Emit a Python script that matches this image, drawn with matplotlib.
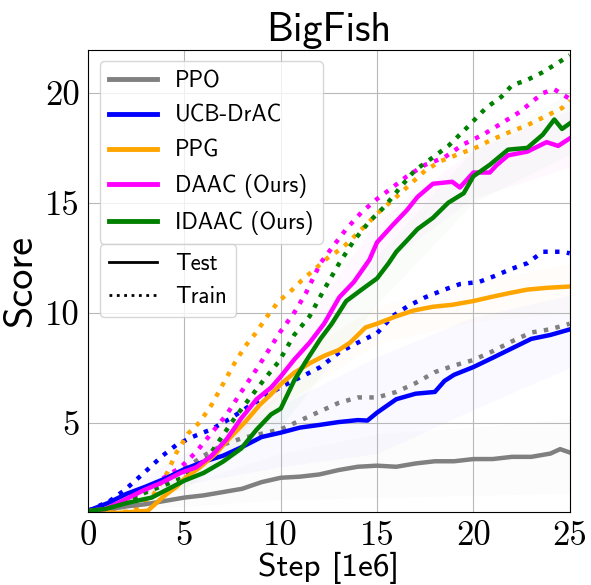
"""BigFish: test (solid) vs train (dotted) score curves for five methods."""
import matplotlib
matplotlib.use("Agg")
import matplotlib.pyplot as plt
from matplotlib.lines import Line2D

# ---- data (step in 1e6, score) ----
ppo_test_x = [0, 1, 2, 3, 4, 5, 6, 7, 8, 9, 10, 11, 12, 13, 14, 15, 16, 17, 18, 19, 20, 21, 22, 23, 24, 24.5, 25]
ppo_test_y = [1.0, 1.05, 1.2, 1.3, 1.45, 1.6, 1.7, 1.85, 2.0, 2.3, 2.5, 2.55, 2.65, 2.85, 3.0, 3.05, 3.0,
              3.15, 3.25, 3.25, 3.35, 3.35, 3.45, 3.45, 3.6, 3.8, 3.65]
ppo_train_x = [0, 1, 2, 3, 4, 5, 6, 7, 8, 9, 10, 11, 12, 13, 14, 15, 16, 17, 18, 19, 20, 21, 22, 23, 24, 25]
ppo_train_y = [1.0, 1.2, 1.5, 1.9, 2.4, 2.9, 3.5, 4.0, 4.3, 4.5, 4.7, 5.1, 5.5, 5.9, 6.15, 6.15, 6.4,
               6.8, 7.3, 7.6, 7.85, 8.25, 8.7, 9.1, 9.25, 9.5]

ucb_test_x = [0, 1, 2, 3, 4, 5, 6, 7, 8, 9, 10, 11, 12, 13, 14, 14.5, 15, 16, 17, 18, 18.5, 19, 20, 21, 22, 23, 24, 25]
ucb_test_y = [1.0, 1.34, 1.77, 2.1, 2.46, 2.89, 3.23, 3.5, 3.9, 4.35, 4.55, 4.78, 4.9, 5.03, 5.12, 5.1,
              5.46, 6.07, 6.32, 6.4, 6.9, 7.18, 7.53, 7.95, 8.38, 8.81, 8.99, 9.24]
ucb_train_x = [0, 1.1, 1.9, 2.9, 3.85, 4.6, 5.4, 6.4, 7.4, 8.3, 9.1, 10.1, 11.1, 12.06, 13.04, 14, 15,
               15.8, 16.55, 17.5, 18.5, 19.3, 20.3, 21.05, 22, 22.8, 23.6, 24.6, 25]
ucb_train_y = [1.0, 1.43, 1.94, 2.72, 3.49, 4.0, 4.35, 4.7, 5.2, 5.72, 6.15, 6.67, 7.1, 7.53, 8.2, 8.64,
               9.07, 9.84, 10.27, 10.7, 11.05, 11.3, 11.4, 11.65, 12.0, 12.25, 12.77, 12.77, 12.7]

ppg_test_x = [0, 1.5, 3.1, 3.85, 4.6, 5, 5.8, 6.6, 7.4, 8.15, 8.9, 9.5, 10, 10.7, 11.5, 12.25, 13, 13.6,
              14.4, 15, 16, 16.9, 17.9, 18.9, 20, 20.85, 21.8, 22.8, 23.8, 25]
ppg_test_y = [1.0, 0.9, 1.0, 1.6, 2.1, 2.46, 2.97, 3.57, 4.35, 5.03, 5.8, 6.3, 6.75, 7.27, 7.7, 8.04, 8.3,
              8.64, 9.33, 9.5, 9.84, 10.1, 10.27, 10.36, 10.53, 10.7, 10.88, 11.05, 11.13, 11.19]
ppg_train_x = [0, 2.2, 3.3, 4.05, 4.6, 5.2, 5.8, 6.4, 7.0, 7.6, 8.15, 8.7, 9.3, 9.9, 10.5, 11.1, 11.9,
               12.45, 13.2, 13.8, 14.6, 15.2, 16, 16.75, 17.5, 18.3, 19.3, 20.1, 20.9, 21.8, 22.8, 23.8, 24.6, 25]
ppg_train_y = [1.0, 0.95, 1.6, 2.63, 3.66, 4.52, 5.03, 5.8, 6.75, 7.7, 8.47, 9.07, 9.84, 10.53, 10.96,
               11.48, 12.08, 12.5, 12.94, 13.45, 14.14, 14.66, 15.26, 15.86, 16.46, 16.89, 17.23, 17.49,
               17.84, 18.18, 18.52, 18.95, 19.3, 19.64]

daac_test_x = [0, 0.9, 1.9, 2.9, 3.85, 4.8, 5.6, 6.4, 7.2, 7.95, 8.75, 9.5, 10, 10.7, 11.5, 12.25, 13.04,
               13.8, 14.6, 15, 15.8, 16.55, 17.1, 17.9, 18.9, 19.3, 20, 20.85, 21.2, 21.8, 22.8, 23.8, 24.4, 25]
daac_test_y = [1.0, 1.08, 1.5, 1.94, 2.29, 2.72, 2.97, 3.49, 4.26, 5.2, 6.07, 6.6, 7.1, 7.87, 8.64, 9.5,
               10.7, 11.4, 12.4, 13.2, 13.97, 14.66, 15.26, 15.86, 15.95, 15.69, 16.37, 16.37, 16.7, 17.15,
               17.32, 17.75, 17.58, 17.92]
daac_train_x = [0, 1.9, 2.9, 4.8, 5.6, 6.4, 7.2, 7.95, 8.75, 9.5, 10, 10.7, 11.3, 12.06, 12.65, 13.4,
                14.2, 15, 15.8, 16.55, 17.5, 18.5, 19.5, 20.5, 21.45, 22.4, 23.6, 24.2, 25]
daac_train_y = [1.0, 1.4, 1.94, 2.97, 3.66, 4.52, 5.38, 6.4, 7.44, 8.47, 9.16, 10.0, 10.88, 12.25, 12.94,
                13.8, 14.57, 15.17, 15.69, 16.2, 16.72, 17.06, 17.66, 18.09, 18.6, 19.12, 19.98, 20.15, 19.72]

idaac_test_x = [0, 0.9, 2.0, 3.3, 4.25, 5, 6, 7, 7.95, 8.75, 9.5, 10, 10.7, 11.3, 12.06, 12.65, 13.4,
                14.2, 15, 15.6, 16, 16.55, 17.1, 17.9, 18.7, 19.5, 20, 20.85, 21.8, 22.8, 23.6, 24.2, 24.6, 25]
idaac_test_y = [1.0, 1.08, 1.35, 1.6, 2.03, 2.37, 2.72, 3.23, 3.83, 4.69, 5.38, 5.64, 6.92, 7.78, 8.81,
                9.5, 10.53, 11.05, 11.56, 12.25, 12.77, 13.28, 13.8, 14.31, 15.0, 15.43, 16.2, 16.72,
                17.41, 17.49, 18.09, 18.78, 18.35, 18.6]
idaac_train_x = [0, 1.9, 2.9, 4.8, 6, 6.8, 7.6, 8.35, 9.1, 9.9, 10.7, 11.5, 12.25, 13.04, 13.8, 14.6,
                 15.4, 16.2, 16.95, 17.9, 18.7, 19.7, 20.65, 21.45, 22, 22.8, 23.6, 24.4, 25]
idaac_train_y = [1.0, 1.3, 1.8, 2.46, 3.14, 4.17, 5.2, 6.07, 6.92, 7.78, 8.99, 9.84, 11.05, 12.25, 13.28,
                 14.14, 14.83, 15.69, 16.46, 17.06, 17.58, 18.44, 19.3, 19.81, 20.33, 20.58, 20.93, 21.36, 21.7]

# faint spread around the test curves (lower / upper), read coarsely
band_x = [0, 5, 10, 15, 20, 25]
ppo_lo = [1.0, 1.2, 1.5, 1.6, 1.7, 1.8]
ppo_hi = [1.0, 2.2, 3.6, 4.5, 4.8, 5.2]
ucb_lo = [1.0, 2.2, 3.0, 3.6, 5.6, 7.5]
ucb_hi = [1.0, 3.6, 5.8, 8.0, 9.8, 10.8]
ppg_lo = [1.0, 2.0, 5.8, 8.6, 9.6, 10.0]
ppg_hi = [1.0, 2.9, 7.6, 10.3, 11.4, 12.2]
daac_lo = [1.0, 2.3, 6.2, 12.0, 15.2, 16.6]
daac_hi = [1.0, 3.1, 8.0, 14.2, 17.4, 19.2]
idaac_lo = [1.0, 2.0, 4.8, 10.4, 15.0, 17.2]
idaac_hi = [1.0, 2.8, 6.4, 12.6, 17.4, 20.0]

methods = ["PPO", "UCB-DrAC", "PPG", "DAAC (Ours)", "IDAAC (Ours)"]
colors = ["grey", "blue", "orange", "magenta", "green"]
tests = [(ppo_test_x, ppo_test_y), (ucb_test_x, ucb_test_y), (ppg_test_x, ppg_test_y),
         (daac_test_x, daac_test_y), (idaac_test_x, idaac_test_y)]
trains = [(ppo_train_x, ppo_train_y), (ucb_train_x, ucb_train_y), (ppg_train_x, ppg_train_y),
          (daac_train_x, daac_train_y), (idaac_train_x, idaac_train_y)]
bands = [(ppo_lo, ppo_hi), (ucb_lo, ucb_hi), (ppg_lo, ppg_hi), (daac_lo, daac_hi), (idaac_lo, idaac_hi)]

SANS = "cmss10"
SERIF = "cmr10"

fig = plt.figure(figsize=(5.91, 5.85), dpi=100)
ax = fig.add_axes([0.149, 0.125, 0.815, 0.79])

for c, (lo, hi) in zip(colors, bands):
    ax.fill_between(band_x, lo, hi, color=c, alpha=0.025, lw=0)
for c, (x, y) in zip(colors, trains):
    ax.plot(x, y, color=c, lw=3.2, ls=":")
for c, (x, y) in zip(colors, tests):
    ax.plot(x, y, color=c, lw=3.2)

ax.set_xlim(0, 25)
ax.set_ylim(0.95, 21.95)
ax.set_xticks([0, 5, 10, 15, 20, 25])
ax.set_yticks([5, 10, 15, 20])
ax.grid(True, color="#b8b8b8", lw=0.8)
ax.tick_params(labelsize=25, length=0, pad=6)
for lab in ax.get_xticklabels() + ax.get_yticklabels():
    lab.set_fontfamily(SERIF)
for s in ax.spines.values():
    s.set_linewidth(0.8)

ax.set_title("BigFish", fontsize=29, fontfamily=SANS, pad=6)
ax.set_xlabel("Step [1e6]", fontsize=24, fontfamily=SANS, labelpad=0)
ax.set_ylabel("Score", fontsize=29, fontfamily=SANS, labelpad=4)

h1 = [Line2D([], [], color=c, lw=3.5) for c in colors]
leg1 = ax.legend(h1, methods, loc="upper left", bbox_to_anchor=(0.0, 1.0),
                 prop={"family": SANS, "size": 16.5}, handlelength=2.1, labelspacing=0.55,
                 framealpha=0.8)
ax.add_artist(leg1)
h2 = [Line2D([], [], color="k", lw=2), Line2D([], [], color="k", lw=2, ls=":")]
ax.legend(h2, ["Test", "Train"], loc="upper left", bbox_to_anchor=(0.0, 0.604),
          prop={"family": SANS, "size": 16.5}, handlelength=2.1, labelspacing=0.45, framealpha=0.8)

fig.savefig("out.png", dpi=100)
